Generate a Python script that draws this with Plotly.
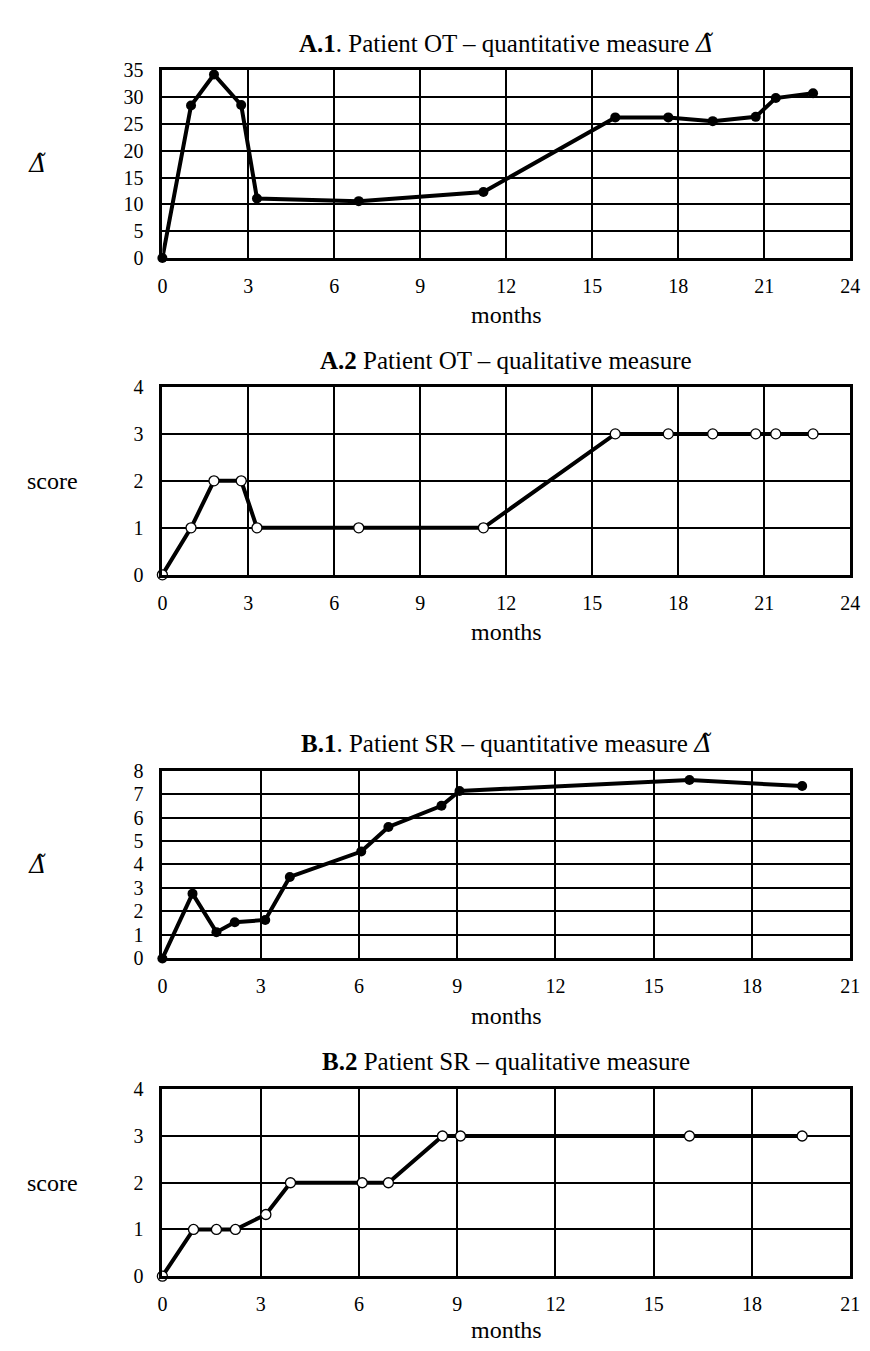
import plotly.graph_objects as go

# ---- data ----
a_months = [0, 1.0, 1.8, 2.75, 3.3, 6.85, 11.2, 15.8, 17.65, 19.2, 20.7, 21.4, 22.7]
a_delta = [0, 28.4, 34.2, 28.5, 11.1, 10.6, 12.3, 26.2, 26.2, 25.5, 26.3, 29.8, 30.7]
a_score = [0, 1, 2, 2, 1, 1, 1, 3, 3, 3, 3, 3, 3]

b_months = [0, 0.92, 1.65, 2.21, 3.14, 3.89, 6.07, 6.9, 8.52, 9.07, 16.09, 19.53]
b_delta = [0, 2.76, 1.12, 1.54, 1.64, 3.47, 4.55, 5.6, 6.5, 7.13, 7.6, 7.34]
b_months2 = [0, 0.95, 1.65, 2.23, 3.16, 3.91, 6.1, 6.9, 8.55, 9.1, 16.09, 19.53]
b_score = [0, 1, 1, 1, 1.32, 2, 2, 2, 3, 3, 3, 3]

DELTA = '<span style="font-family:DejaVu Serif"><i>Δ̃</i></span>'
titles = [
    "<b>A.1</b>. Patient OT – quantitative measure " + DELTA,
    "<b>A.2</b> Patient OT – qualitative measure",
    "<b>B.1</b>. Patient SR – quantitative measure " + DELTA,
    "<b>B.2</b> Patient SR – qualitative measure",
]
ytitles = [DELTA, "score", DELTA, "score"]
x_ranges = [24, 24, 21, 21]
y_ranges = [35, 4, 8, 4]
y_dticks = [5, 1, 1, 1]

W, H = 870, 1351
px_top = [52, 374, 764, 1088]
px_bot = [243, 565, 955, 1278]
px_left, px_right = 152, 852
title_py = [25, 347, 737, 1060]
months_py = [301, 623, 1013, 1333]

FONT = "Liberation Serif"
TXT = 25
TICK = 20
fig = go.Figure()

series = [
    (a_months, a_delta, True),
    (a_months, a_score, False),
    (b_months, b_delta, True),
    (b_months2, b_score, False),
]

layout = dict(
    width=W, height=H, margin=dict(l=0, r=0, t=0, b=0),
    paper_bgcolor="white", plot_bgcolor="white", showlegend=False,
    font=dict(family=FONT, size=TXT, color="black"),
)
annotations = []
for i, (xs, ys, filled) in enumerate(series):
    n = "" if i == 0 else str(i + 1)
    xa, ya = "x" + n, "y" + n
    fig.add_trace(go.Scatter(
        x=xs, y=ys, xaxis=xa, yaxis=ya, mode="lines+markers",
        line=dict(color="black", width=4),
        marker=dict(size=10,
                    color="black" if filled else "white",
                    line=dict(color="black", width=0 if filled else 1.3),
                    symbol="circle"),
        cliponaxis=False,
    ))
    ydom = [1 - px_bot[i] / H, 1 - px_top[i] / H]
    xdom = [px_left / W, px_right / W]
    layout["xaxis" + n] = dict(
        domain=xdom, anchor=ya, range=[0, x_ranges[i]], dtick=3, tick0=0,
        showgrid=True, gridcolor="black", gridwidth=2,
        showline=True, linecolor="black", linewidth=3, mirror=True,
        ticks="outside", ticklen=8, tickcolor="rgba(0,0,0,0)", zeroline=False,
        tickfont=dict(family=FONT, size=TICK),
    )
    layout["yaxis" + n] = dict(
        domain=ydom, anchor=xa, range=[0, y_ranges[i]], dtick=y_dticks[i], tick0=0,
        showgrid=True, gridcolor="black", gridwidth=2,
        showline=True, linecolor="black", linewidth=3, mirror=True,
        ticks="outside", ticklen=12, tickcolor="rgba(0,0,0,0)", zeroline=False,
        tickfont=dict(family=FONT, size=TICK),
    )
    annotations.append(dict(
        text=titles[i], xref="paper", yref="paper", x=(px_left + px_right) / 2 / W,
        y=1 - title_py[i] / H, showarrow=False, xanchor="center", yanchor="middle",
        font=dict(family=FONT, size=TXT),
    ))
    annotations.append(dict(
        text="months", xref="paper", yref="paper", x=(px_left + px_right) / 2 / W,
        y=1 - months_py[i] / H, showarrow=False, xanchor="center", yanchor="middle",
        font=dict(family=FONT, size=TXT - 1),
    ))
    annotations.append(dict(
        text=ytitles[i], xref="paper", yref="paper",
        x=(24 if i in (0, 2) else 40) / W,
        y=1 - (px_top[i] + px_bot[i]) / 2 / H, showarrow=False,
        xanchor="center", yanchor="middle", font=dict(family=FONT, size=TXT - 1),
    ))

layout["annotations"] = annotations
fig.update_layout(**layout)
fig.write_html("out.html")
